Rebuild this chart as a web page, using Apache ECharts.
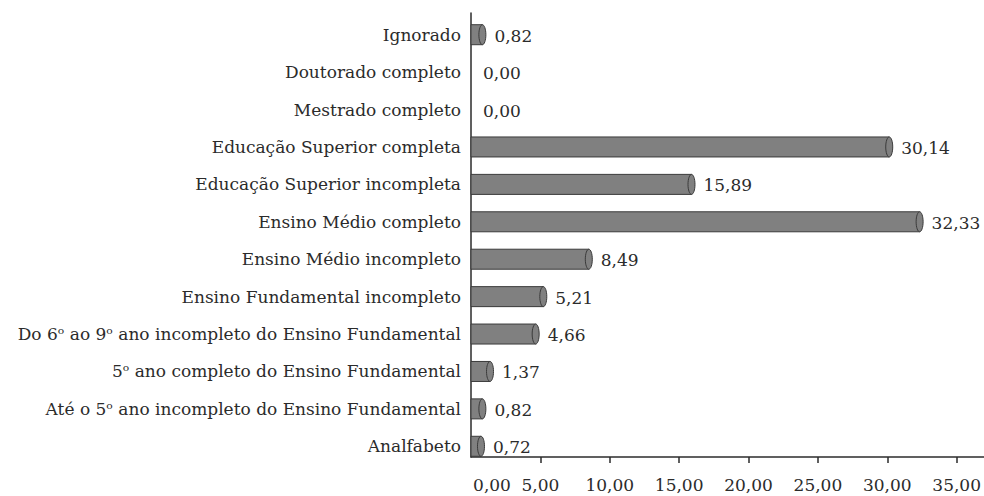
<!DOCTYPE html>
<html>
<head>
<meta charset="utf-8">
<script src="https://cdn.jsdelivr.net/npm/echarts@6/dist/echarts.min.js"></script>
<style>
  html, body { margin: 0; padding: 0; background: #fff; }
  #chart { width: 984px; height: 496px; }
</style>
</head>
<body>
<div id="chart"></div>
<script>
// categories bottom to top, as the axis draws them
var categories = [
  'Analfabeto',
  'Até o 5º ano incompleto do Ensino Fundamental',
  '5º ano completo do Ensino Fundamental',
  'Do 6º ao 9º ano incompleto do Ensino Fundamental',
  'Ensino Fundamental incompleto',
  'Ensino Médio incompleto',
  'Ensino Médio completo',
  'Educação Superior incompleta',
  'Educação Superior completa',
  'Mestrado completo',
  'Doutorado completo',
  'Ignorado'
];
var values = [0.72, 0.82, 1.37, 4.66, 5.21, 8.49, 32.33, 15.89, 30.14, 0.00, 0.00, 0.82];
var axisTicks = [5, 10, 15, 20, 25, 30, 35];

(function () {
  var ink = '#2b2b2b';
  var barFill = '#808080';
  var barEdge = '#3a3a3a';
  var fontStack = '"DejaVu Serif", "Liberation Serif", serif';
  var fontSize = 17;

  function fmt(v) { return v.toFixed(2).replace('.', ','); }

  var chart = echarts.init(document.getElementById('chart'), null, { renderer: 'svg' });

  // cylinder: body rect + elliptic cap at the value end, label after it
  function renderCylinder(params, api) {
    var cat = api.value(0);
    var val = api.value(1);
    var start = api.coord([0, cat]);
    var end = api.coord([val, cat]);
    var h = 20;
    var children = [];
    if (val > 0) {
      children.push({
        type: 'rect',
        shape: { x: start[0], y: start[1] - h / 2, width: end[0] - start[0], height: h },
        style: { fill: barFill, stroke: barEdge, lineWidth: 1 }
      });
      children.push({
        type: 'ellipse',
        shape: { cx: end[0], cy: end[1], rx: 3.5, ry: h / 2 },
        style: { fill: barFill, stroke: barEdge, lineWidth: 1 }
      });
    }
    children.push({
      type: 'text',
      x: end[0] + 12,
      y: end[1] + 1,
      style: {
        text: fmt(val),
        fill: ink,
        font: fontSize + 'px ' + fontStack,
        verticalAlign: 'middle',
        align: 'left'
      }
    });
    return { type: 'group', children: children };
  }

  chart.setOption({
    animation: false,
    grid: [
      { left: 471, right: 23, top: 16, bottom: 31 },
      { left: 471, right: 0, top: 13, bottom: 39 }
    ],
    xAxis: [
      {
        type: 'value',
        gridIndex: 0,
        min: 0,
        max: 35,
        interval: 5,
        offset: -8,
        axisLine: { show: false },
        splitLine: { show: false },
        axisTick: { show: true, length: 6, customValues: axisTicks, lineStyle: { color: ink, width: 1.5 } },
        axisLabel: {
          color: ink,
          fontFamily: fontStack,
          fontSize: fontSize,
          margin: 19,
          formatter: function (v) {
            return v === 0 ? '{z|' + fmt(v) + '}' : fmt(v);
          },
          rich: { z: { color: ink, fontFamily: fontStack, fontSize: fontSize, padding: [0, 0, 0, 42] } }
        }
      },
      {
        type: 'value',
        gridIndex: 1,
        min: 0,
        max: 1,
        axisLine: { show: true, lineStyle: { color: ink, width: 1.5 } },
        axisTick: { show: false },
        axisLabel: { show: false },
        splitLine: { show: false }
      }
    ],
    yAxis: [
      {
        type: 'category',
        gridIndex: 0,
        data: categories,
        axisLine: { show: false },
        axisTick: { show: false },
        axisLabel: {
          color: ink,
          fontFamily: fontStack,
          fontSize: fontSize,
          margin: 10,
          // superscript-style ordinal, as printed in the source
          formatter: function (s) { return s.replace(/º/g, 'ᵒ'); }
        }
      },
      {
        type: 'value',
        gridIndex: 1,
        min: 0,
        max: 1,
        axisLine: { show: true, lineStyle: { color: ink, width: 1.5 } },
        axisTick: { show: false },
        axisLabel: { show: false },
        splitLine: { show: false }
      }
    ],
    series: [{
      type: 'custom',
      xAxisIndex: 0,
      yAxisIndex: 0,
      renderItem: renderCylinder,
      encode: { x: 1, y: 0 },
      data: values.map(function (v, i) { return [i, v]; })
    }]
  });
  window.addEventListener('resize', function () { chart.resize(); });
})();
</script>
</body>
</html>
